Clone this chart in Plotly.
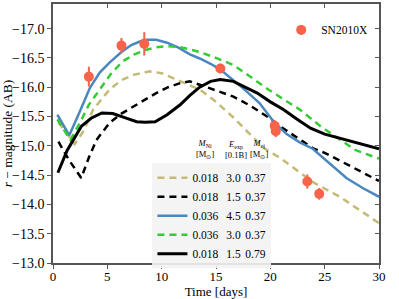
import plotly.graph_objects as go

# ---- data ----
t_tan = [0.5, 2.0, 2.8, 3.7, 5.2, 6.3, 7.4, 8.9, 10.0, 11.0, 12.0, 12.9, 13.5, 15.0, 16.5, 18.0, 19.5, 21.0, 22.4, 24.0, 26.4, 28.0, 30.0]
m_tan = [-15.4, -15.03, -15.25, -15.62, -15.96, -16.12, -16.21, -16.27, -16.24, -16.16, -16.08, -16.01, -15.96, -15.75, -15.5, -15.22, -14.95, -14.78, -14.59, -14.37, -14.13, -13.93, -13.68]

t_kd = [0.5, 1.5, 2.6, 3.3, 4.0, 5.2, 6.3, 7.4, 8.5, 9.5, 10.6, 11.7, 12.6, 13.5, 15.0, 16.6, 18.2, 19.7, 21.0, 22.5, 24.0, 25.0, 26.5, 28.0, 30.0]
m_kd = [-15.07, -14.75, -14.45, -14.8, -15.1, -15.39, -15.55, -15.67, -15.8, -15.9, -16.0, -16.07, -16.1, -16.04, -15.95, -15.84, -15.68, -15.5, -15.32, -15.13, -14.95, -14.88, -14.74, -14.6, -14.4]

t_blue = [0.4, 1.5, 2.5, 3.4, 4.3, 5.2, 6.3, 7.2, 8.0, 8.6, 9.5, 10.5, 11.5, 12.6, 13.5, 14.5, 15.4, 16.5, 17.5, 19.0, 20.4, 21.5, 22.7, 23.9, 25.0, 25.8, 27.0, 28.5, 30.0]
m_blue = [-15.53, -15.18, -15.6, -15.99, -16.25, -16.42, -16.6, -16.72, -16.78, -16.81, -16.81, -16.76, -16.68, -16.56, -16.49, -16.4, -16.3, -16.14, -15.98, -15.73, -15.39, -15.2, -15.06, -14.95, -14.77, -14.64, -14.45, -14.28, -14.13]

t_green = [0.4, 1.6, 2.5, 3.3, 4.3, 5.3, 6.4, 7.5, 8.6, 9.5, 10.5, 11.5, 12.5, 13.5, 15.0, 16.6, 18.0, 19.5, 21.0, 22.7, 24.5, 26.4, 27.8, 30.0]
m_green = [-15.45, -15.1, -15.4, -15.7, -15.96, -16.22, -16.44, -16.56, -16.64, -16.68, -16.7, -16.69, -16.65, -16.6, -16.5, -16.38, -16.2, -16.0, -15.82, -15.62, -15.35, -15.1, -14.93, -14.78]

t_ks = [0.45, 1.3, 2.6, 3.5, 4.5, 5.5, 6.6, 7.7, 8.5, 9.4, 10.5, 11.7, 12.6, 13.5, 14.5, 15.4, 16.6, 17.7, 18.8, 20.0, 21.2, 22.5, 23.7, 25.0, 26.4, 28.0, 30.0]
m_ks = [-14.54, -14.92, -15.33, -15.47, -15.56, -15.55, -15.48, -15.41, -15.4, -15.41, -15.53, -15.7, -15.86, -16.0, -16.1, -16.13, -16.1, -16.0, -15.9, -15.75, -15.62, -15.45, -15.3, -15.2, -15.13, -15.05, -14.95]

t_obs = [3.3, 6.3, 8.4, 15.4, 20.4, 20.5, 23.4, 24.5]
m_obs = [-16.18, -16.71, -16.74, -16.32, -15.34, -15.25, -14.39, -14.18]
e_obs = [0.17, 0.13, 0.2, 0.08, 0.1, 0.1, 0.12, 0.1]

labels = ["0.018\u2002\u20093.0\u2009\u20090.37",
          "0.018\u2002\u20091.5\u2009\u20090.37",
          "0.036\u2002\u20094.5\u2009\u20090.37",
          "0.036\u2002\u20093.0\u2009\u20090.37",
          "0.018\u2002\u20091.5\u2009\u20090.79"]

xtick_vals = [0, 5, 10, 15, 20, 25, 30]
ytick_vals = [-17.0, -16.5, -16.0, -15.5, -15.0, -14.5, -14.0, -13.5, -13.0]
ytick_text = ["\u221217.0", "\u221216.5", "\u221216.0", "\u221215.5", "\u221215.0", "\u221214.5", "\u221214.0", "\u221213.5", "\u221213.0"]

FONT = "Liberation Serif"
TAN = "#C4BA74"
BLUE = "#4A87BE"
GREEN = "#33CC33"
RED = "#F8634A"

fig = go.Figure()
fig.add_trace(go.Scatter(x=t_tan, y=m_tan, mode="lines", name=labels[0],
                         line=dict(color=TAN, width=2.5, dash="7px,5px")))
fig.add_trace(go.Scatter(x=t_kd, y=m_kd, mode="lines", name=labels[1],
                         line=dict(color="black", width=2.5, dash="7px,5px")))
fig.add_trace(go.Scatter(x=t_blue, y=m_blue, mode="lines", name=labels[2],
                         line=dict(color=BLUE, width=2.5)))
fig.add_trace(go.Scatter(x=t_green, y=m_green, mode="lines", name=labels[3],
                         line=dict(color=GREEN, width=2.5, dash="7px,5px")))
fig.add_trace(go.Scatter(x=t_ks, y=m_ks, mode="lines", name=labels[4],
                         line=dict(color="black", width=3)))
fig.add_trace(go.Scatter(x=t_obs, y=m_obs, mode="markers", name="SN2010X", legend="legend2",
                         marker=dict(color=RED, size=10),
                         error_y=dict(type="data", array=e_obs, color=RED, thickness=2, width=0)))
# mirror axes (inside ticks on top / right)
fig.add_trace(go.Scatter(x=[None], y=[None], xaxis="x2", yaxis="y2", showlegend=False, hoverinfo="skip"))

axcol = "#555555"
fig.update_layout(
    width=399, height=299,
    margin=dict(l=53, r=20, t=4, b=36),
    paper_bgcolor="white", plot_bgcolor="white",
    font=dict(family=FONT, size=13, color="black"),
    xaxis=dict(range=[0, 30], tickvals=xtick_vals, ticks="outside", ticklen=4, tickcolor=axcol,
               showline=True, linecolor=axcol, linewidth=1.5, mirror=True, showgrid=False, zeroline=False,
               tickfont=dict(size=13), automargin=False, ticklabelstandoff=-3,
               title=dict(text="Time [days]", font=dict(size=13), standoff=0)),
    yaxis=dict(range=[-13, -17.42], tickvals=ytick_vals, ticktext=ytick_text, ticks="outside", ticklen=4,
               tickcolor=axcol, showline=True, linecolor=axcol, linewidth=1.5, mirror=True, showgrid=False,
               zeroline=False, tickfont=dict(size=14), automargin=False,
               title=dict(text="<i>r</i> \u2212 magnitude (AB)", font=dict(size=13.5), standoff=4)),
    xaxis2=dict(overlaying="x", side="top", matches="x", range=[0, 30], tickvals=xtick_vals, ticks="inside",
                ticklen=4, tickcolor=axcol, showticklabels=False, showgrid=False, zeroline=False, showline=False,
                automargin=False),
    yaxis2=dict(overlaying="y", side="right", matches="y", range=[-13, -17.42], tickvals=ytick_vals,
                ticks="inside", ticklen=4, tickcolor=axcol, showticklabels=False, showgrid=False,
                zeroline=False, showline=False, automargin=False),
    legend=dict(x=0.305, y=0.385, xanchor="left", yanchor="top", bgcolor="rgba(243,243,243,0.9)",
                borderwidth=0, font=dict(size=11.5), tracegroupgap=0, itemwidth=30),
    legend2=dict(x=0.70, y=0.90, xanchor="left", yanchor="middle", bgcolor="rgba(0,0,0,0)",
                 font=dict(size=11.5), itemwidth=30),
)

header_x = [0.466, 0.562, 0.632]
header_txt = ["<i>M</i><sub>Ni</sub><br>[M<sub>\u2299</sub>]",
              "<i>E</i><sub>exp</sub><br>[0.1B]",
              "<i>M</i><sub>ej</sub><br>[M<sub>\u2299</sub>]"]
for hx, ht in zip(header_x, header_txt):
    fig.add_annotation(x=hx, y=0.39, xref="paper", yref="paper", text=ht, showarrow=False,
                       font=dict(size=8.5), xanchor="center", yanchor="bottom")

fig.write_html("out.html", config={"displayModeBar": False},
               post_script="document.body.style.margin='0';document.body.style.overflow='hidden';")
